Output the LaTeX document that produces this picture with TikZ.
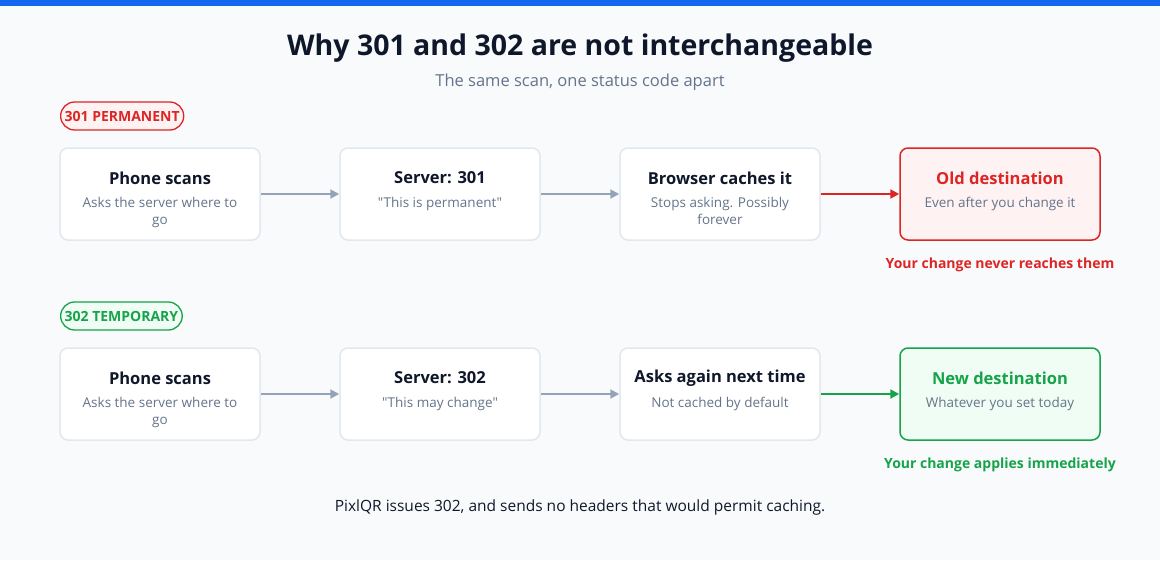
\documentclass[tikz,border=0pt]{standalone}
\usepackage{fontspec}
\setmainfont{Open Sans}[Ligatures=TeXOff]
\usetikzlibrary{arrows.meta}
\definecolor{bg}{HTML}{F8FAFC}
\definecolor{bar}{HTML}{1565F0}
\definecolor{ink}{HTML}{0F172A}
\definecolor{sub}{HTML}{64748B}
\definecolor{bord}{HTML}{E2E8F0}
\definecolor{arr}{HTML}{94A3B8}
\definecolor{rd}{HTML}{DC2626}
\definecolor{rdf}{HTML}{FEF2F2}
\definecolor{gr}{HTML}{16A34A}
\definecolor{grf}{HTML}{F0FDF4}
\tikzset{
 box/.style={draw=bord,line width=1.5pt,fill=white,rounded corners=8pt,minimum width=200pt,minimum height=92pt,inner sep=0pt},
 ttl/.style={font=\fontsize{16.5}{19}\selectfont\bfseries,text=ink},
 sb/.style={font=\fontsize{13.5}{17}\selectfont,text=sub,align=center},
 ar/.style={draw=arr,line width=2pt,-{Triangle[length=9pt,width=9pt]}},
 badge/.style={rounded corners=14pt,line width=1.3pt,font=\fontsize{14}{16}\selectfont\bfseries,inner xsep=4pt,minimum height=28pt},
}
\begin{document}
\begin{tikzpicture}[x=1pt,y=-1pt]
\fill[bg] (0,0) rectangle (1160,560);
\useasboundingbox (0,0) rectangle (1160,560);
\fill[bar] (0,0) rectangle (1160,6);
\node[font=\fontsize{28.5}{32}\selectfont\bfseries,text=ink] (title) at (580,48) {Why 301 and 302 are not interchangeable};
\node[font=\fontsize{16.5}{19}\selectfont,text=sub] (subt) at (580,82) {The same scan, one status code apart};
\foreach \r/\y/\code/\bcol/\bfil/\lab/\nb/\sbb/\nc/\sc/\nd/\sd in {
 a/194/301 PERMANENT/rd/rdf/Your change never reaches them/Server: 301/"This is permanent"/Browser caches it/Stops asking. Possibly\\forever/Old destination/Even after you change it,
 b/394/302 TEMPORARY/gr/grf/Your change applies immediately/Server: 302/"This may change"/Asks again next time/Not cached by default/New destination/Whatever you set today}{
 \node[badge,draw=\bcol,fill=\bfil,text=\bcol,anchor=west] (\r bd) at (60,\y-78) {\code};
 \node[box] (\r1) at (160,\y) {};
 \node[box] (\r2) at (440,\y) {};
 \node[box] (\r3) at (720,\y) {};
 \node[box,draw=\bcol,fill=\bfil] (\r4) at (1000,\y) {};
 \node[ttl] (\r1t) at (160,\y-16) {Phone scans};
 \node[sb,anchor=north] (\r1s) at (160,\y) {Asks the server where to\\go};
 \node[ttl] (\r2t) at (440,\y-16) {\nb};
 \node[sb,anchor=north] (\r2s) at (440,\y) {\sbb};
 \node[ttl] (\r3t) at (720,\y-16) {\nc};
 \node[sb,anchor=north] (\r3s) at (720,\y) {\sc};
 \node[ttl,text=\bcol] (\r4t) at (1000,\y-16) {\nd};
 \node[sb,anchor=north] (\r4s) at (1000,\y) {\sd};
 \node[font=\fontsize{14}{16}\selectfont\bfseries,text=\bcol] (\r lab) at (1000,\y+71) {\lab};
 \draw[ar] (\r1) -- (\r2);
 \draw[ar] (\r2) -- (\r3);
 \draw[ar,draw=\bcol] (\r3) -- (\r4);
}
\node[font=\fontsize{15.5}{18}\selectfont,text=ink] (foot) at (580,507) {PixlQR issues 302, and sends no headers that would permit caching.};
\end{tikzpicture}
\end{document}
